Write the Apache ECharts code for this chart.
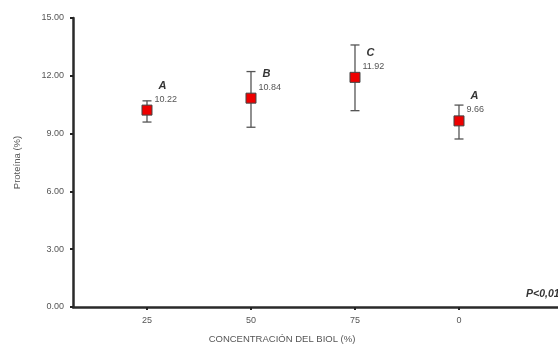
<!DOCTYPE html>
<html><head><meta charset="utf-8">
<script src="https://cdn.jsdelivr.net/npm/echarts@6/dist/echarts.min.js"></script>
<style>html,body{margin:0;padding:0;background:#fff}#c{width:558px;height:347px}</style>
</head><body><div id="c"></div>
<script>
const categories = ['25', '50', '75', '0'];
const means = [10.22, 10.84, 11.92, 9.66];
const upper = [10.70, 12.22, 13.60, 10.48];
const lower = [9.60, 9.33, 10.19, 8.72];
const letters = ['A', 'B', 'C', 'A'];
const xTitle = 'CONCENTRACIÓN DEL BIOL (%)';
const yTitle = 'Proteína (%)';

const pos = categories.map((c, i) => i + 1);
const font = 'Liberation Sans, Arial, sans-serif';
const chart = echarts.init(document.getElementById('c'));
chart.setOption({
  animation: false,
  grid: { left: 73, right: 0, top: 18, bottom: 40, containLabel: false },
  xAxis: {
    type: 'value', min: 0.2885, max: 4.952,
    splitLine: { show: false },
    axisLine: { show: true, onZero: false, lineStyle: { color: '#2a2a2a', width: 2.5 } },
    axisTick: { show: true, customValues: pos, length: 3, lineStyle: { color: '#222', width: 2 } },
    axisLabel: { customValues: pos, margin: 9, fontFamily: font, fontSize: 9, color: '#555',
      formatter: v => categories[Math.round(v) - 1] }
  },
  yAxis: {
    type: 'value', min: 0, max: 15, interval: 3,
    name: yTitle, nameLocation: 'middle', nameGap: 51, nameRotate: 90,
    nameTextStyle: { fontFamily: font, fontSize: 9.5, color: '#555', padding: [0, 0, 0, 0] },
    splitLine: { show: false },
    axisLine: { show: true, lineStyle: { color: '#2a2a2a', width: 2.5 } },
    axisTick: { show: true, inside: false, length: 3, lineStyle: { color: '#222', width: 2 } },
    axisLabel: { margin: 9, fontFamily: font, fontSize: 9, color: '#555', formatter: v => v.toFixed(2) }
  },
  series: [
    {
      type: 'custom',
      data: pos.map((p, i) => [p, lower[i], upper[i]]),
      renderItem: (params, api) => {
        const x = api.value(0);
        const lo = api.coord([x, api.value(1)]);
        const hi = api.coord([x, api.value(2)]);
        const hw = 4.5;
        const st = { stroke: '#555', lineWidth: 1.3 };
        return { type: 'group', children: [
          { type: 'line', shape: { x1: lo[0], y1: lo[1], x2: hi[0], y2: hi[1] }, style: st },
          { type: 'line', shape: { x1: lo[0] - hw, y1: lo[1], x2: lo[0] + hw, y2: lo[1] }, style: st },
          { type: 'line', shape: { x1: hi[0] - hw, y1: hi[1], x2: hi[0] + hw, y2: hi[1] }, style: st }
        ]};
      },
      z: 2
    },
    {
      type: 'scatter',
      data: pos.map((p, i) => [p, means[i]]),
      symbol: 'rect', symbolSize: 10,
      itemStyle: { color: '#ee0000', borderColor: '#444', borderWidth: 1, opacity: 1 },
      label: {
        show: true, position: 'right', distance: 0, offset: [2, -18],
        formatter: p => '{l|' + letters[p.dataIndex] + '}\n{v|' + means[p.dataIndex].toFixed(2) + '}',
        rich: {
          l: { fontFamily: font, fontSize: 11, fontWeight: 'bold', fontStyle: 'italic', color: '#333', padding: [0, 0, 2, 4], lineHeight: 14 },
          v: { fontFamily: font, fontSize: 9, color: '#555', lineHeight: 11 }
        }
      },
      z: 3
    }
  ],
  graphic: [
    { type: 'text', x: 282, y: 339, style: { text: xTitle, font: '9.5px ' + font, fill: '#555', textAlign: 'center', textVerticalAlign: 'middle' } },
    { type: 'text', x: 526, y: 294, style: { text: 'P<0,01', font: 'italic bold 10.5px ' + font, fill: '#333', textVerticalAlign: 'middle' } }
  ]
});
</script></body></html>
